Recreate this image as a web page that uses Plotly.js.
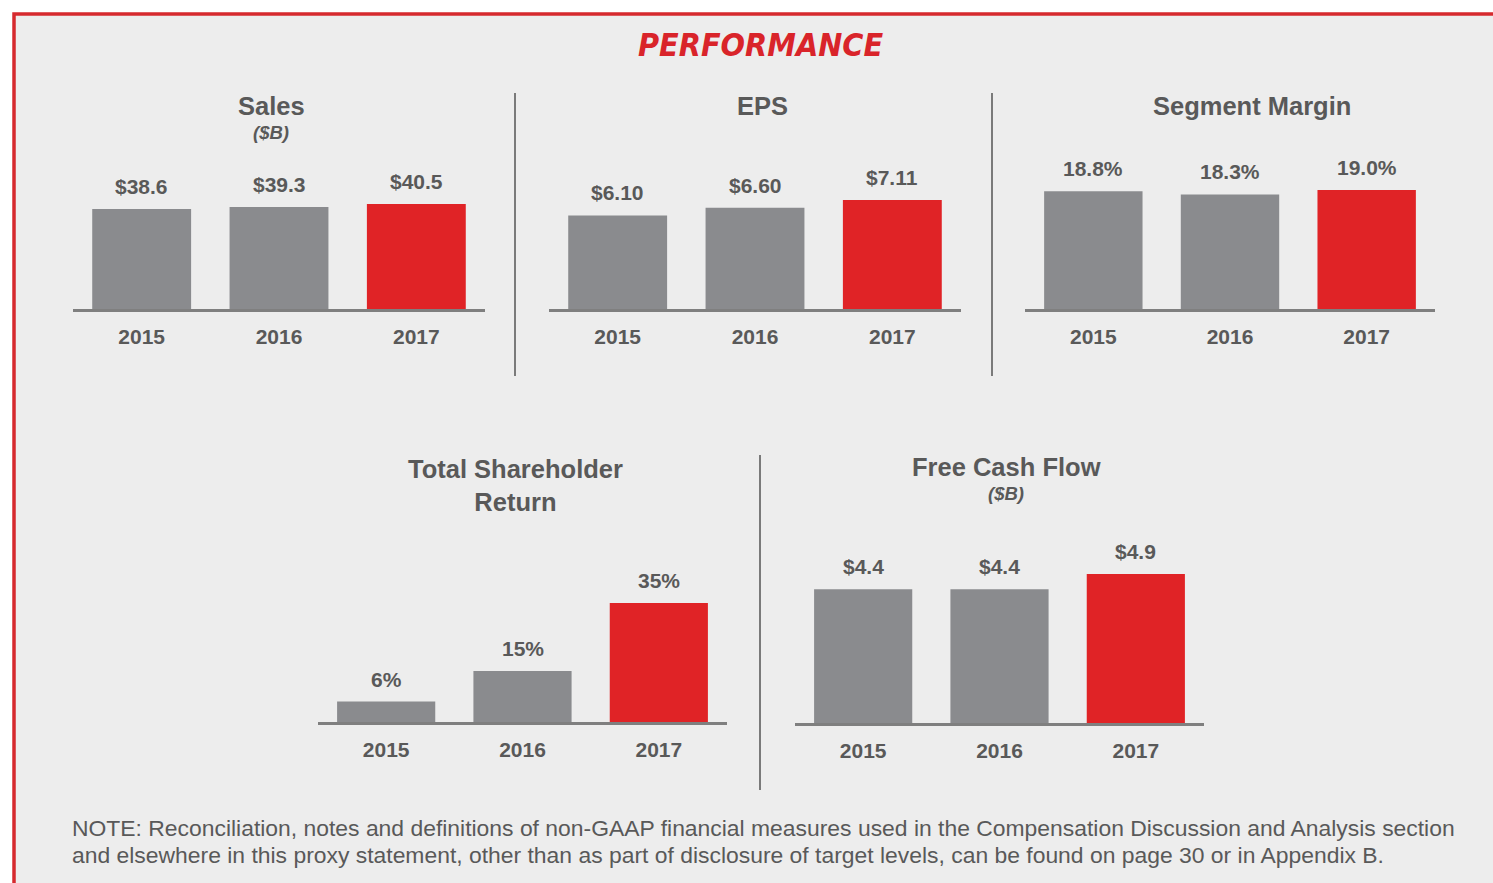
<!DOCTYPE html>
<html>
<head>
<meta charset="utf-8">
<script src="https://cdn.plot.ly/plotly-3.0.1.min.js"></script>
<style>
html,body{margin:0;padding:0;background:#ffffff;}
#chart{width:1493px;height:883px;}
</style>
</head>
<body>
<div id="chart"></div>
<script>
// ---- data ----
const years = ['2015', '2016', '2017'];
const sales = [38.6, 39.3, 40.5];
const salesLabels = ['$38.6', '$39.3', '$40.5'];
const eps = [6.10, 6.60, 7.11];
const epsLabels = ['$6.10', '$6.60', '$7.11'];
const segMargin = [18.8, 18.3, 19.0];
const segLabels = ['18.8%', '18.3%', '19.0%'];
const tsr = [6, 15, 35];
const tsrLabels = ['6%', '15%', '35%'];
const fcf = [4.4, 4.4, 4.9];
const fcfLabels = ['$4.4', '$4.4', '$4.9'];
const panelTitles = ['Sales', 'EPS', 'Segment Margin', 'Total Shareholder<br>Return', 'Free Cash Flow'];
const panelUnits = ['($B)', '', '', '', '($B)'];
const mainTitle = 'PERFORMANCE';
const noteLines = [
  'NOTE: Reconciliation, notes and definitions of non-GAAP financial measures used in the Compensation Discussion and Analysis section',
  'and elsewhere in this proxy statement, other than as part of disclosure of target levels, can be found on page 30 or in Appendix B.'
];

// ---- styles / layout helpers ----
const W = 1493, H = 883;
const px = v => v / W;
const py = v => 1 - v / H;
const GREY = '#8a8b8e', RED = '#e02326', TXT = '#595959';
const FONT = 'Liberation Sans, Arial, Helvetica, sans-serif';
const barColors = [GREY, GREY, RED];

const panels = [
  {vals: sales, labels: salesLabels, x0: 73, x1: 485, base: 309, top: 150, ymax: 61.3, tx: 271, ty: 106, uy: 132},
  {vals: eps, labels: epsLabels, x0: 549, x1: 961, base: 309, top: 150, ymax: 10.37, tx: 762, ty: 106},
  {vals: segMargin, labels: segLabels, x0: 1025, x1: 1435, base: 309, top: 150, ymax: 25.39, tx: 1252, ty: 106},
  {vals: tsr, labels: tsrLabels, x0: 318, x1: 727, base: 722, top: 560, ymax: 47.65, tx: 515, ty: 485},
  {vals: fcf, labels: fcfLabels, x0: 795, x1: 1204, base: 723, top: 560, ymax: 5.36, tx: 1006, ty: 467, uy: 493}
];

const data = [];
const layout = {
  width: W, height: H,
  margin: {l: 0, r: 0, t: 0, b: 0, pad: 0},
  paper_bgcolor: '#ffffff',
  plot_bgcolor: 'rgba(0,0,0,0)',
  showlegend: false,
  bargap: 0.28,
  annotations: [],
  shapes: []
};

// background panel with red border
layout.shapes.push({type: 'rect', xref: 'paper', yref: 'paper', layer: 'below',
  x0: px(14), x1: px(1510), y0: py(14), y1: py(900),
  fillcolor: '#ededed', line: {color: '#d62a2e', width: 3.5}});
// dividers
[[515, 93, 376], [992, 93, 376], [760, 455, 790]].forEach(d => {
  layout.shapes.push({type: 'line', xref: 'paper', yref: 'paper',
    x0: px(d[0]), x1: px(d[0]), y0: py(d[1]), y1: py(d[2]),
    line: {color: '#7a7a7a', width: 2}});
});

panels.forEach((p, i) => {
  const n = i + 1;
  const xa = 'x' + (n === 1 ? '' : n), ya = 'y' + (n === 1 ? '' : n);
  data.push({type: 'bar', x: years, y: p.vals, xaxis: xa, yaxis: ya,
    marker: {color: barColors, line: {width: 0}}, hoverinfo: 'skip'});
  layout['xaxis' + (n === 1 ? '' : n)] = {
    domain: [px(p.x0), px(p.x1)], anchor: ya, type: 'category', range: [-0.5, 2.5],
    showline: true, linecolor: '#7f7f7f', linewidth: 3,
    ticks: 'outside', ticklen: 7, tickcolor: 'rgba(0,0,0,0)',
    tickfont: {family: FONT, size: 21, color: TXT, weight: 'bold'},
    showgrid: false, zeroline: false, fixedrange: true
  };
  layout['yaxis' + (n === 1 ? '' : n)] = {
    domain: [py(p.base), py(p.top)], anchor: xa, range: [0, p.ymax], visible: false,
    showgrid: false, zeroline: false, fixedrange: true
  };
  p.vals.forEach((v, j) => {
    layout.annotations.push({xref: xa, yref: ya, x: j, y: v, text: '<b>' + p.labels[j] + '</b>',
      showarrow: false, xanchor: 'center', yanchor: 'middle', yshift: 22.5,
      font: {family: FONT, size: 21, color: TXT}});
  });
  layout.annotations.push({xref: 'paper', yref: 'paper', x: px(p.tx), y: py(p.ty),
    text: '<b>' + panelTitles[i] + '</b>', showarrow: false, xanchor: 'center', yanchor: 'middle',
    font: {family: FONT, size: 25.5, color: TXT}});
  if (panelUnits[i]) {
    layout.annotations.push({xref: 'paper', yref: 'paper', x: px(p.tx), y: py(p.uy),
      text: '<b><i>' + panelUnits[i] + '</i></b>', showarrow: false, xanchor: 'center', yanchor: 'middle',
      font: {family: FONT, size: 18.5, color: TXT}});
  }
});

layout.annotations.push({xref: 'paper', yref: 'paper', x: px(760), y: py(45),
  text: '<b><i>' + mainTitle + '</i></b>', showarrow: false, xanchor: 'center', yanchor: 'middle',
  font: {family: 'DejaVu Sans Condensed, DejaVu Sans, sans-serif', size: 32, color: '#d9242a'}});

noteLines.forEach((t, k) => {
  layout.annotations.push({xref: 'paper', yref: 'paper', x: px(70), y: py(828 + k * 27),
    text: t, showarrow: false, xanchor: 'left', yanchor: 'middle',
    font: {family: FONT, size: 22.9, color: TXT}});
});

Plotly.newPlot('chart', data, layout, {displayModeBar: false, staticPlot: true});
</script>
</body>
</html>
